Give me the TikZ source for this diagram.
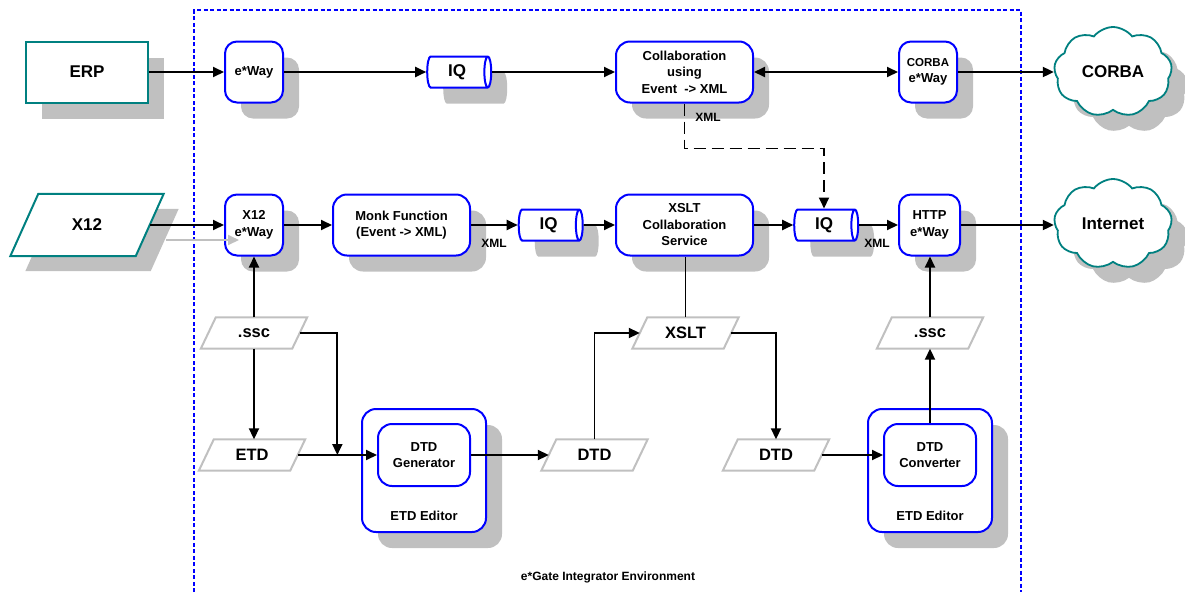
\documentclass[tikz,border=0pt]{standalone}
\usepackage{fontspec}
\setmainfont{Liberation Sans}
\usetikzlibrary{arrows.meta,shapes.geometric,shapes.symbols,shadows,calc}
\definecolor{tealc}{RGB}{0,128,128}
\definecolor{shad}{RGB}{192,192,192}
\definecolor{bluec}{RGB}{0,0,255}
\pgfdeclarelayer{bg}
\pgfsetlayers{bg,main}
\newcommand\drawpara[3]{\draw[#3] ($(#1.south west)+(-#2pt,0pt)$) -- ($(#1.south east)+(-#2pt,0pt)$) -- ($(#1.north east)+(#2pt,0pt)$) -- ($(#1.north west)+(#2pt,0pt)$) -- cycle;}
\begin{document}
\begin{tikzpicture}[x=1pt,y=-1pt,
  sh/.style={general shadow={fill=shad, shadow xshift=16pt, shadow yshift=-16pt}},
  rbox/.style={draw=bluec, line width=2pt, fill=white, rounded corners=12pt, align=center, inner sep=0pt,
     font=\fontsize{13}{16.5}\selectfont\bfseries},
  sbox/.style={rbox, sh, minimum width=58pt, minimum height=61pt},
  wbox/.style={rbox, sh, minimum width=137pt, minimum height=61pt, rounded corners=14pt},
  iq/.style={cylinder, draw=bluec, line width=2pt, fill=white, sh, minimum height=64pt, minimum width=31pt,
     shape aspect=0.45, inner sep=0pt, font=\fontsize{17}{19}\selectfont\bfseries},
  ext/.style={draw=tealc, line width=2pt, fill=white, sh, font=\fontsize{17}{19}\selectfont\bfseries},
  cld/.style={cloud, cloud puffs=9, cloud puff arc=105, aspect=1.3, draw=tealc, line width=1.8pt, fill=white,
     sh, minimum width=118pt, minimum height=90pt, font=\fontsize{17}{19}\selectfont\bfseries},
  para/.style={minimum width=91pt, minimum height=31pt, inner sep=0pt, font=\fontsize{16.5}{19}\selectfont\bfseries},
  paraline/.style={draw=shad, line width=2pt},
  arr/.style={-{Triangle[length=11pt,width=10pt]}, line width=1.9pt},
  lbl/.style={font=\fontsize{12}{14}\selectfont\bfseries, inner sep=0pt}
]
\useasboundingbox (0,0) rectangle (1185,592);

% environment
\coordinate (envbl) at (194,592);
\coordinate (envtl) at (194,10);
\coordinate (envtr) at (1021,10);
\coordinate (envbr) at (1021,592);
\draw[bluec, line width=1.8pt, dash pattern=on 4pt off 2.5pt] (envbl) -- (envtl) -- (envtr) -- (envbr);
\node[lbl] (envlbl) at (608,577) {e*Gate Integrator Environment};

% top row
\node[ext, minimum width=122pt, minimum height=61pt] (erp) at (87,72) {ERP};
\node[sbox] (ew1) at (254,72) {e*Way};
\node[iq] (iq1) at (457,72) {IQ};
\node[wbox] (col) at (684.5,72) {Collaboration\\using\\Event\ \ -> XML};
\node[sbox] (cw) at (928,72) {{\fontsize{11.5}{14}\selectfont CORBA}\\e*Way};
\node[cld] (corba) at (1113,72) {CORBA};

% middle row
\node[para, minimum width=125pt, minimum height=62pt, font=\fontsize{17}{19}\selectfont\bfseries] (x12) at (87,225) {X12};
\begin{pgfonlayer}{bg}
\fill[shad] ($(x12.south west)+(1pt,-15pt)$) -- ($(x12.south east)+(1pt,-15pt)$) -- ($(x12.north east)+(29pt,-15pt)$) -- ($(x12.north west)+(29pt,-15pt)$) -- cycle;
\drawpara{x12}{14}{fill=white, draw=none}
\end{pgfonlayer}
\drawpara{x12}{14}{draw=tealc, line width=2pt}
\node[sbox] (xw) at (254,225) {X12\\e*Way};
\node[wbox] (monk) at (401.5,225) {Monk Function\\(Event -> XML)};
\node[iq] (iq2) at (548.5,225) {IQ};
\node[wbox] (xcol) at (684.5,225) {XSLT\\Collaboration\\Service};
\node[iq] (iq3) at (824,225) {IQ};
\node[sbox, minimum width=61pt] (hw) at (929.5,225) {HTTP\\e*Way};
\node[cld] (inet) at (1113,224) {Internet};

% lower
\node[para] (ssc1) at (254,333) {.ssc};
\drawpara{ssc1}{7.5}{paraline}
\node[para] (etd) at (252,455) {ETD};
\drawpara{etd}{7.5}{paraline}
\node[para] (dtd1) at (594.5,455) {DTD};
\drawpara{dtd1}{7.5}{paraline}
\node[para] (xslt) at (685.5,333) {XSLT};
\drawpara{xslt}{7.5}{paraline}
\node[para] (dtd2) at (776,455) {DTD};
\drawpara{dtd2}{7.5}{paraline}
\node[para] (ssc2) at (930,333) {.ssc};
\drawpara{ssc2}{7.5}{paraline}

\node[rbox, sh, minimum width=124pt, minimum height=123pt, rounded corners=14pt] (ed1) at (424,470.5) {};
\node[rbox, minimum width=92pt, minimum height=62pt, rounded corners=14pt] (gen) at (424,455) {DTD\\Generator};
\node[font=\fontsize{13}{16}\selectfont\bfseries] (ed1l) at (424,516) {ETD Editor};
\node[rbox, sh, minimum width=124pt, minimum height=123pt, rounded corners=14pt] (ed2) at (930,470.5) {};
\node[rbox, minimum width=92pt, minimum height=62pt, rounded corners=14pt] (conv) at (930,455) {DTD\\Converter};
\node[font=\fontsize{13}{16}\selectfont\bfseries] (ed2l) at (930,516) {ETD Editor};

% connectors top
\draw[arr] (erp) -- (ew1);
\draw[arr] (ew1) -- (iq1);
\draw[arr] (iq1) -- (col);
\draw[arr, {Triangle[length=11pt,width=10pt]}-{Triangle[length=11pt,width=10pt]}] (col) -- (cw);
\draw[arr] (cw) -- (corba);
\draw[arr, dash pattern=on 12pt off 6pt] (col.south) -- ++(0,45) -| (iq3.north);
\node[lbl] (xmll1) at (708,117) {XML};

% connectors middle
\coordinate (gs) at ($(x12.east)+(16pt,-15pt)$);
\coordinate (ge) at ($(xw.west)+(15pt,-15pt)$);
\draw[draw=shad, line width=1.9pt, -{Triangle[length=11pt,width=10pt]}] (gs) -- (ge);
\draw[arr] (x12) -- (xw);
\draw[arr] (xw) -- (monk);
\draw[arr] (monk) -- (iq2);
\node[lbl] (xmll2) at (494,243) {XML};
\draw[arr] (iq2) -- (xcol);
\draw[arr] (xcol) -- (iq3);
\draw[arr] (iq3) -- (hw);
\node[lbl] (xmll3) at (877,243) {XML};
\draw[arr] (hw.east) -- (hw.east -| inet.west);

% connectors lower
\draw[arr] (ssc1.north) -- (ssc1.north |- xw.south);
\draw[arr] (ssc1.south) -- (ssc1.south |- etd.north);
\draw[arr] (ssc1.east) -| ($(etd.east)!0.5!(gen.west)$);
\draw[arr] (etd) -- (gen);
\draw[arr] (gen) -- (dtd1);
\draw[arr] (dtd1.north) |- (xslt.west);
\draw[line width=1.9pt] (xslt.north) -- (xslt.north |- xcol.south);
\draw[arr] (xslt.east) -| (dtd2.north);
\draw[arr] (dtd2) -- (conv);
\draw[arr] (conv.north) -- (ssc2.south);
\draw[arr] (ssc2.north) -- (ssc2.north |- hw.south);
\end{tikzpicture}
\end{document}
